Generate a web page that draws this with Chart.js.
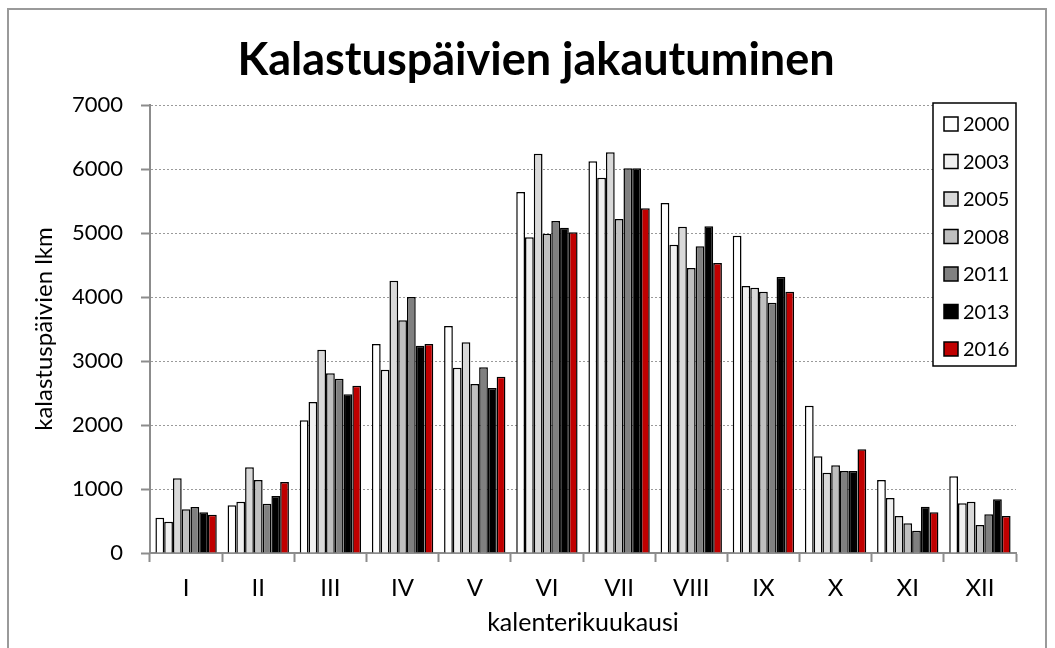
<!DOCTYPE html>
<html>
<head>
<meta charset="utf-8">
<script src="https://cdn.jsdelivr.net/npm/chart.js@4/dist/chart.umd.min.js"></script>
<style>
    body { margin: 0; background: #fff; }
    #wrap { position: relative; width: 1055px; height: 648px; overflow: hidden; }
    #frame {
        position: absolute; left: 7px; top: 8px; width: 1040px; height: 660px;
        border: 2px solid #9a9a9a; box-sizing: border-box; pointer-events: none;
    }
</style>
</head>
<body>
<div id="wrap">
    <canvas id="chart" width="1055" height="648"></canvas>
    <div id="frame"></div>
</div>
<script>
const months = ["I", "II", "III", "IV", "V", "VI", "VII", "VIII", "IX", "X", "XI", "XII"];
const years = ["2000", "2003", "2005", "2008", "2011", "2013", "2016"];
const colors = ["#ffffff", "#f0f0f0", "#d9d9d9", "#bfbfbf", "#808080", "#000000", "#c00000"];

const v2000 = [551, 745, 2073, 3266, 3547, 5640, 6120, 5469, 4958, 2302, 1140, 1198];
const v2003 = [490, 802, 2360, 2864, 2895, 4932, 5864, 4817, 4172, 1510, 860, 776];
const v2005 = [1167, 1339, 3177, 4255, 3292, 6239, 6260, 5099, 4146, 1255, 578, 802];
const v2008 = [683, 1140, 2808, 3636, 2640, 4989, 5219, 4453, 4083, 1370, 464, 437];
const v2011 = [719, 770, 2723, 4000, 2901, 5187, 6010, 4792, 3911, 1281, 349, 605];
const v2013 = [636, 890, 2480, 3239, 2580, 5083, 6010, 5104, 4313, 1281, 723, 839];
const v2016 = [598, 1110, 2614, 3266, 2755, 5010, 5385, 4531, 4083, 1620, 636, 578];

const series = [v2000, v2003, v2005, v2008, v2011, v2013, v2016];
const font = "Lato, 'Open Sans', sans-serif";

// legend box drawn inside the plot, top right
const boxLegend = {
    id: "boxLegend",
    afterLayout(chart) {
        // title sits a bit right of the canvas centre in the original
        if (chart.titleBlock) {
            chart.titleBlock.left += 18;
            chart.titleBlock.right += 18;
        }
    },
    afterDraw(chart) {
        const ctx = chart.ctx;
        const area = chart.chartArea;
        const x0 = area.right - 83, y0 = area.top - 2, w = 83, h = 263;
        ctx.save();
        ctx.fillStyle = "#fff";
        ctx.fillRect(x0, y0, w, h);
        ctx.strokeStyle = "#000";
        ctx.lineWidth = 1.5;
        ctx.strokeRect(x0, y0, w, h);
        ctx.font = "20px " + font;
        ctx.textBaseline = "middle";
        chart.data.datasets.forEach((ds, i) => {
            const cy = y0 + 21 + i * 37.5;
            ctx.fillStyle = ds.backgroundColor;
            ctx.fillRect(x0 + 11, cy - 7, 14, 14);
            ctx.strokeStyle = "#000";
            ctx.lineWidth = 1.5;
            ctx.strokeRect(x0 + 11, cy - 7, 14, 14);
            ctx.fillStyle = "#000";
            ctx.fillText(ds.label, x0 + 30, cy + 1);
        });
        ctx.restore();
    }
};

new Chart(document.getElementById("chart"), {
    type: "bar",
    data: {
        labels: months,
        datasets: years.map((y, i) => ({
            label: y,
            data: series[i],
            backgroundColor: colors[i],
            borderColor: "#000",
            borderWidth: 1.5,
            barPercentage: 1,
            categoryPercentage: 0.85
        }))
    },
    options: {
        responsive: false,
        animation: false,
        layout: { padding: { left: 20, right: 39, top: 16, bottom: 10 } },
        plugins: {
            legend: { display: false },
            tooltip: { enabled: false },
            title: {
                display: true,
                text: "Kalastuspäivien jakautuminen",
                color: "#000",
                font: { family: font, size: 45, weight: "bold" },
                padding: { top: 17, bottom: 18 }
            }
        },
        scales: {
            x: {
                afterFit(scale) { scale.height = 85; },
                grid: {
                    offset: true,
                    drawOnChartArea: false,
                    drawTicks: true,
                    tickLength: 9,
                    tickColor: "#8c8c8c",
                    tickWidth: 2
                },
                border: { color: "#8c8c8c", width: 2 },
                ticks: { color: "#000", font: { family: font, size: 24 }, padding: 12 },
                title: {
                    display: true,
                    text: "kalenterikuukausi",
                    color: "#000",
                    font: { family: font, size: 25 },
                    padding: { top: 10, bottom: 0 }
                }
            },
            y: {
                min: 0,
                max: 7000,
                afterFit(scale) { scale.width = 130; },
                ticks: {
                    stepSize: 1000,
                    color: "#000",
                    font: { family: font, size: 22 },
                    padding: 18,
                    callback: (v) => String(v)
                },
                grid: {
                    color: "#9a9a9a",
                    lineWidth: 1,
                    tickBorderDash: [],
                    tickColor: "#8c8c8c",
                    tickWidth: 2,
                    tickLength: 9
                },
                border: { color: "#8c8c8c", width: 2, dash: [2, 2] },
                title: {
                    display: true,
                    text: "kalastuspäivien lkm",
                    color: "#000",
                    font: { family: font, size: 24 },
                    padding: { top: 10, bottom: 0 }
                }
            }
        }
    },
    plugins: [boxLegend]
});
</script>
</body>
</html>
